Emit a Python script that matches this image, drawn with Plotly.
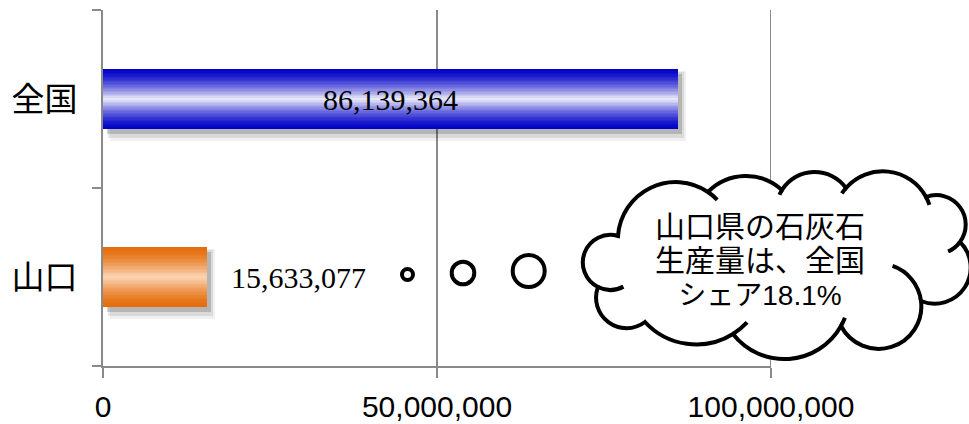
import math
import plotly.graph_objects as go

# ---------------- data ----------------
categories = ["山口", "全国"]
values = [15633077, 86139364]
value_labels = ["15,633,077", "86,139,364"]
x_tickvals = [0, 50000000, 100000000]
x_ticktext = ["0", "50,000,000", "100,000,000"]
callout_lines = ["山口県の石灰石", "生産量は、全国", "シェア18.1%"]

# ---------------- layout geometry ----------------
W, H = 969, 424
ML, MR, MT, MB = 103, 198, 10, 58
PW, PH = W - ML - MR, H - MT - MB
GRAY = "#8a8a8a"
CJK = "Liberation Sans, Noto Sans CJK JP"


def paper(X, Y):
    return ((X - ML) / PW, 1 - (Y - MT) / PH)


# ---------------- bars with gradient ----------------
BAR_W = 0.34
N_LAYERS = 22
EDGE = {"山口": (228, 108, 10), "全国": (0, 0, 200)}
CENTER = {"山口": (252, 214, 184), "全国": (238, 238, 250)}


def mix(c1, c2, f):
    return "rgb(%d,%d,%d)" % tuple(round(a + (b - a) * f) for a, b in zip(c1, c2))


fig = go.Figure()

# soft shadows
for extra, dy, shift, alpha in [(0.05, 0.04, 1.1e6, 0.06), (0.03, 0.034, 0.8e6, 0.09),
                                (0.0, 0.027, 0.6e6, 0.17)]:
    w = BAR_W + extra
    fig.add_trace(go.Bar(
        y=categories, x=values, orientation="h", base=[shift] * len(values),
        width=w, offset=-w / 2 - dy,
        marker=dict(color="rgba(0,0,0,%g)" % alpha, line=dict(width=0)),
        hoverinfo="skip", showlegend=False))

for i in range(N_LAYERS):
    frac = 1 - i / N_LAYERS
    t = frac - 0.5 / N_LAYERS
    f = (1 - t) ** 1.5
    cols = [mix(EDGE[c], CENTER[c], f) for c in categories]
    fig.add_trace(go.Bar(
        y=categories, x=values, orientation="h",
        width=BAR_W * frac,
        marker=dict(color=cols, line=dict(width=0)),
        hoverinfo="skip", showlegend=False))

# value labels
fig.add_annotation(x=values[1] / 2, y=categories[1], text=value_labels[1],
                   showarrow=False, xanchor="center", yanchor="middle",
                   font=dict(family="Liberation Serif", size=30, color="black"))
fig.add_annotation(x=values[0], y=categories[0], text=value_labels[0],
                   showarrow=False, xanchor="left", yanchor="middle", xshift=22,
                   font=dict(family="Liberation Serif", size=30, color="black"))

# gridline at the right end of the value axis
fig.add_shape(type="line", xref="x", yref="paper", x0=x_tickvals[-1], x1=x_tickvals[-1],
              y0=0, y1=1, line=dict(color=GRAY, width=2), layer="below")

# ---------------- cloud callout ----------------
CUSPS = [(618, 236), (708, 192), (782, 190), (846, 188), (926, 197), (960, 242),
         (921, 301), (841, 326), (733, 334), (645, 322), (598, 287)]
SAGITTA = [29, 15, 17, 21, 21, 29, 35, 29, 16, 22, 25]
EXT_START = [0, 0, 8, 8, 0, 0, 64, 8, 15, 0, 55]
EXT_END = [12, 0, 0, 10, 30, 0, 0, 0, 0, 0, 0]


def arc_geom(p0, p1, h):
    (x0, y0), (x1, y1) = p0, p1
    dx, dy = x1 - x0, y1 - y0
    c = math.hypot(dx, dy)
    nx, ny = dy / c, -dx / c
    R = (c * c / 4 + h * h) / (2 * h)
    mx, my = (x0 + x1) / 2, (y0 + y1) / 2
    cx, cy = mx + nx * (h - R), my + ny * (h - R)
    a0 = math.atan2(y0 - cy, x0 - cx)
    a1 = math.atan2(y1 - cy, x1 - cx)
    ap = math.atan2(ny, nx)
    two = 2 * math.pi
    ccw = (a1 - a0) % two
    sweep = ccw if (ap - a0) % two < ccw else ccw - two
    return cx, cy, R, a0, sweep


def arc_bez(cx, cy, R, a, sweep):
    n = max(1, math.ceil(abs(sweep) / (math.pi / 2) - 1e-9))
    th = sweep / n
    k = 4 / 3 * math.tan(th / 4)
    segs = []
    for _ in range(n):
        b = a + th
        p0 = (cx + R * math.cos(a), cy + R * math.sin(a))
        p3 = (cx + R * math.cos(b), cy + R * math.sin(b))
        c1 = (p0[0] - k * R * math.sin(a), p0[1] + k * R * math.cos(a))
        c2 = (p3[0] + k * R * math.sin(b), p3[1] - k * R * math.cos(b))
        segs.append((c1, c2, p3))
        a = b
    return segs


def fmt(pt):
    x, y = paper(*pt)
    return "%.5f,%.5f" % (x, y)


path = "M " + fmt(CUSPS[0])
hooks = []
for i in range(len(CUSPS)):
    p0, p1 = CUSPS[i], CUSPS[(i + 1) % len(CUSPS)]
    cx, cy, R, a0, sw = arc_geom(p0, p1, SAGITTA[i])
    for c1, c2, p3 in arc_bez(cx, cy, R, a0, sw):
        path += " C " + fmt(c1) + " " + fmt(c2) + " " + fmt(p3)
    sgn = 1 if sw > 0 else -1
    if EXT_START[i]:
        e = math.radians(EXT_START[i])
        st = a0 - sgn * e
        hp = "M " + fmt((cx + R * math.cos(st), cy + R * math.sin(st)))
        for c1, c2, p3 in arc_bez(cx, cy, R, st, sgn * e):
            hp += " C " + fmt(c1) + " " + fmt(c2) + " " + fmt(p3)
        hooks.append(hp)
    if EXT_END[i]:
        e = math.radians(EXT_END[i])
        st = a0 + sw
        hp = "M " + fmt((cx + R * math.cos(st), cy + R * math.sin(st)))
        for c1, c2, p3 in arc_bez(cx, cy, R, st, sgn * e):
            hp += " C " + fmt(c1) + " " + fmt(c2) + " " + fmt(p3)
        hooks.append(hp)
path += " Z"

fig.add_shape(type="path", path=path, xref="paper", yref="paper",
              fillcolor="white", line=dict(color="black", width=4), layer="above")
for hp in hooks:
    fig.add_shape(type="path", path=hp, xref="paper", yref="paper",
                  line=dict(color="black", width=4), layer="above")

# thought bubbles
for (bx, by, r) in [(407.5, 274.5, 5.5), (463, 273, 11.3), (528.7, 271, 16)]:
    x0, y1 = paper(bx - r, by - r)
    x1, y0 = paper(bx + r, by + r)
    fig.add_shape(type="circle", xref="paper", yref="paper",
                  x0=x0, x1=x1, y0=y0, y1=y1,
                  fillcolor="white", line=dict(color="black", width=4), layer="above")

# callout text: one block, base size sets the tight line spacing
line_sizes = [30, 30, 28]
callout_text = "<br>".join('<span style="font-size:%dpx">%s</span>' % (s, t)
                           for s, t in zip(line_sizes, callout_lines))
tx, ty = paper(760, 260)
fig.add_annotation(x=tx, y=ty, xref="paper", yref="paper", text=callout_text,
                   showarrow=False, xanchor="center", yanchor="middle", align="center",
                   font=dict(family=CJK, size=26, color="black"))

# ---------------- layout ----------------
fig.update_layout(
    width=W, height=H, autosize=False,
    margin=dict(l=ML, r=MR, t=MT, b=MB, pad=0, autoexpand=False),
    barmode="overlay", bargap=0,
    plot_bgcolor="white", paper_bgcolor="white",
    showlegend=False,
    xaxis=dict(range=[0, 100000000], tickvals=x_tickvals, ticktext=x_ticktext,
               showline=True, linecolor=GRAY, linewidth=2,
               ticks="outside", ticklen=10, tickcolor=GRAY, tickwidth=2,
               showgrid=True, gridcolor=GRAY, gridwidth=2, zeroline=False,
               ticklabelstandoff=3, automargin=False,
               tickfont=dict(family="Liberation Sans", size=30, color="black"),
               fixedrange=True),
    yaxis=dict(type="category", categoryorder="array", categoryarray=categories,
               range=[-0.5, 1.5], showline=True, linecolor=GRAY, linewidth=2,
               ticks="outside", ticklen=9, tickcolor=GRAY, tickwidth=2,
               tickson="boundaries", showgrid=False, zeroline=False,
               ticklabelstandoff=17, automargin=False,
               tickfont=dict(family=CJK, size=33, color="black"),
               fixedrange=True),
)

fig.write_html("out.html")
